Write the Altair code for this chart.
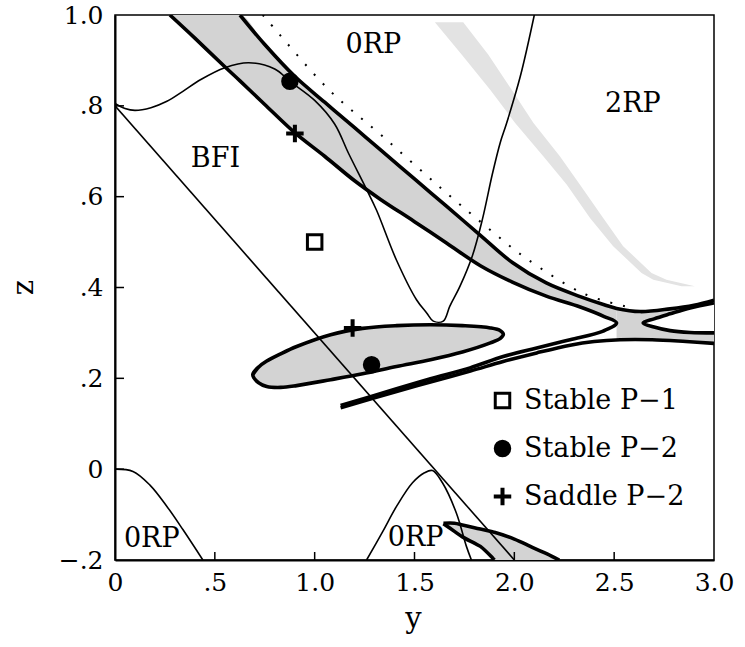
import altair as alt
import pandas as pd

# ---------------- thin boundary curves (y, z) ----------------
LINE_Y = [0.0, 2.0]
LINE_Z = [0.8, -0.2]

WAVE_Y = [0.0, 0.05, 0.10, 0.18, 0.26, 0.34, 0.43, 0.55, 0.67, 0.80, 0.876, 1.0, 1.10,
          1.17, 1.26, 1.31, 1.41, 1.51, 1.561, 1.594, 1.644, 1.677, 1.728, 1.79, 1.84,
          1.89, 1.93, 1.96, 2.03, 2.10]
WAVE_Z = [0.805, 0.794, 0.790, 0.796, 0.810, 0.832, 0.858, 0.884, 0.895, 0.881, 0.854,
          0.812, 0.760, 0.695, 0.616, 0.570, 0.460, 0.373, 0.344, 0.326, 0.326, 0.359,
          0.403, 0.470, 0.550, 0.650, 0.720, 0.760, 0.865, 1.0]

CORNER_Y = [0.0, 0.09, 0.175, 0.26, 0.34, 0.44]
CORNER_Z = [0.0, -0.005, -0.035, -0.082, -0.133, -0.2]

HUMP_Y = [1.26, 1.34, 1.41, 1.49, 1.55, 1.59, 1.64, 1.71, 1.76, 1.785]
HUMP_Z = [-0.2, -0.138, -0.082, -0.030, -0.008, -0.003, -0.030, -0.097, -0.170, -0.2]

# ---------------- thick boundary curves ----------------
UP_Y = [0.626, 0.75, 0.90, 1.05, 1.20, 1.33, 1.50, 1.66, 1.83, 1.99, 2.16, 2.33, 2.45,
        2.512, 2.63, 2.78, 2.90, 3.0]
UP_Z = [1.0, 0.935, 0.865, 0.808, 0.752, 0.703, 0.639, 0.579, 0.515, 0.455, 0.410, 0.380,
        0.362, 0.354, 0.347, 0.353, 0.361, 0.372]

BAND_Y = [0.275, 0.40, 0.55] + UP_Y[:14]
BAND_LOW = [1.0, 0.949, 0.886, 0.855, 0.803, 0.741, 0.689, 0.635, 0.594, 0.545, 0.498,
            0.448, 0.412, 0.381, 0.357, 0.336, 0.322]
BAND_TOP = [1.0, 1.0, 1.0] + UP_Z[:14]

ARM_Y = [2.445, 2.279, 2.112, 1.944, 1.778, 1.58, 1.41, 1.13]
ARM_Z = [0.304, 0.285, 0.267, 0.248, 0.223, 0.199, 0.177, 0.140]

LOWER_Y = [1.13, 1.41, 1.58, 1.78, 1.944, 2.112, 2.28, 2.40, 2.53, 2.69, 2.86, 3.0]
LOWER_Z = [0.135, 0.171, 0.192, 0.216, 0.237, 0.256, 0.273, 0.281, 0.285, 0.285, 0.281, 0.277]

RLOBE_Y = [2.645, 2.70, 2.78, 2.88, 3.0]
RLOBE_TOP = [0.322, 0.331, 0.342, 0.355, 0.366]
RLOBE_BOT = [0.322, 0.313, 0.305, 0.301, 0.300]

CH_Y = [2.512, 2.63, 2.78, 2.90, 3.0]
CH_TOP = [0.354, 0.347, 0.353, 0.361, 0.372]
CH_BOT = [0.285, 0.285, 0.284, 0.280, 0.277]

ELL_Y = [0.69, 0.72, 0.76, 0.83, 0.91, 1.08, 1.24, 1.41, 1.58, 1.74, 1.88, 1.93, 1.945]
ELL_TOP = [0.208, 0.225, 0.238, 0.254, 0.270, 0.296, 0.310, 0.316, 0.318, 0.316, 0.311, 0.305, 0.297]
ELL_BOT = [0.208, 0.190, 0.182, 0.180, 0.184, 0.197, 0.210, 0.226, 0.241, 0.258, 0.278, 0.288, 0.297]

LENS_Y = [1.645, 1.70, 1.74, 1.80, 1.83, 1.89, 1.90, 2.0, 2.08, 2.15, 2.225]
LENS_TOP = [-0.119, -0.119, -0.123, -0.129, -0.132, -0.138, -0.139, -0.154, -0.170, -0.184, -0.2]
LENS_BOT = [-0.120, -0.137, -0.149, -0.163, -0.170, -0.195, -0.2, -0.2, -0.2, -0.2, -0.2]

# sparse dotted boundary
DOT_Y = [0.74, 0.768, 1.07, 1.34, 1.64, 1.89, 2.06, 2.35, 2.56]
DOT_Z = [1.0, 0.986, 0.836, 0.733, 0.616, 0.523, 0.464, 0.386, 0.358]

# dotted strip bounding the 2RP region
STRIP_Z = [0.984, 0.913, 0.836, 0.763, 0.689, 0.627, 0.553, 0.491, 0.432, 0.417, 0.403]
STRIP_L = [1.602, 1.736, 1.878, 2.003, 2.145, 2.262, 2.379, 2.495, 2.637, 2.696, 2.838]
STRIP_R = [1.744, 1.869, 1.986, 2.095, 2.228, 2.328, 2.445, 2.545, 2.687, 2.762, 2.904]

# fixed points
MARK_Y = [1.0, 0.876, 1.285, 0.901, 1.19]
MARK_Z = [0.50, 0.854, 0.230, 0.739, 0.311]
MARK_KIND = ["Stable P\u22121", "Stable P\u22122", "Stable P\u22122", "Saddle P\u22122", "Saddle P\u22122"]
KINDS = ["Stable P\u22121", "Stable P\u22122", "Saddle P\u22122"]

# region names
LAB_TEXT = ["0RP", "2RP", "BFI", "0RP", "0RP"]
LAB_Y = [1.294, 2.594, 0.503, 0.184, 1.506]
LAB_Z = [0.935, 0.803, 0.682, -0.153, -0.152]

X_TICKS = [0.5, 1.0, 1.5, 2.0, 2.5]
Z_TICKS = [0.0, 0.2, 0.4, 0.6, 0.8]

# ---------------- helpers ----------------
FONT = "DejaVu Serif"
XS = alt.Scale(domain=[0, 3], nice=False, zero=False)
ZS = alt.Scale(domain=[-0.2, 1.0], nice=False, zero=False)
LBL = ("datum.value == 0 ? '0' : "
       "replace(replace(format(datum.value, '.1f'), '0.', '.'), '-', '\u2212')")
XAX = alt.Axis(title="y", values=[0, 0.5, 1.0, 1.5, 2.0, 2.5, 3.0], labelExpr=LBL,
               ticks=False, tickSize=0, grid=False, domainColor="black", domainWidth=2,
               labelFont=FONT, labelFontSize=25, labelColor="black", labelPadding=10,
               labelFlush=False, labelOverlap=False,
               titleFont=FONT, titleFontSize=29, titleFontWeight="normal", titleColor="black",
               titleX=298, titleY=67, titleBaseline="alphabetic", titleAlign="center")
ZAX = alt.Axis(title="z", values=[-0.2, 0, 0.2, 0.4, 0.6, 0.8, 1.0], labelExpr=LBL,
               ticks=False, tickSize=0, grid=False, domainColor="black", domainWidth=2,
               labelFont=FONT, labelFontSize=25, labelColor="black", labelPadding=12,
               labelFlush=False, labelOverlap=False,
               titleFont=FONT, titleFontSize=29, titleFontWeight="normal", titleColor="black",
               titleX=-83, titleY=272, titleBaseline="alphabetic", titleAlign="center",
               titleAngle=-90)

# plus symbol drawn as a thin filled outline (stroke adds the weight)
PLUS = ("M-1,-0.07L-0.07,-0.07L-0.07,-1L0.07,-1L0.07,-0.07L1,-0.07L1,0.07L0.07,0.07"
        "L0.07,1L-0.07,1L-0.07,0.07L-1,0.07Z")


def X(f):
    return alt.X(f"{f}:Q", scale=XS, axis=XAX)


def Y(f):
    return alt.Y(f"{f}:Q", scale=ZS, axis=ZAX)


def curves(items):
    rows = []
    for name, ys, zs in items:
        for i, (a, b) in enumerate(zip(ys, zs)):
            rows.append({"curve": name, "ord": i, "yv": a, "zv": b})
    return pd.DataFrame(rows)


def band(ys, top, bot):
    return pd.DataFrame({"yv": ys, "top": top, "bot": bot})


DENSE = "#d3d3d3"

# ---------------- shaded regions ----------------
strip = alt.Chart(pd.DataFrame({"zv": STRIP_Z, "l": STRIP_L, "r": STRIP_R})).mark_area(
    orient="horizontal", color="#e3e3e3", clip=True).encode(
    y=Y("zv"), x=X("l"), x2="r")


def fill_area(df, color=DENSE):
    return alt.Chart(df).mark_area(orient="vertical", color=color, interpolate="monotone",
                                   clip=True).encode(x=X("yv"), y=Y("top"), y2="bot")


band_fill = fill_area(band(BAND_Y, BAND_TOP, BAND_LOW))
ch_fill = fill_area(band(CH_Y, CH_TOP, CH_BOT))
rlobe_blank = fill_area(band(RLOBE_Y, RLOBE_TOP, RLOBE_BOT), color="white")
ell_fill = fill_area(band(ELL_Y, ELL_TOP, ELL_BOT))
lens_fill = fill_area(band(LENS_Y, LENS_TOP, LENS_BOT))

# ---------------- lines ----------------
dotted = alt.Chart(curves([("dot", DOT_Y, DOT_Z)])).mark_line(
    color="black", strokeWidth=2, strokeDash=[2, 11], interpolate="catmull-rom",
    clip=True).encode(x=X("yv"), y=Y("zv"), order="ord:Q")

thin = alt.Chart(curves([
    ("line", LINE_Y, LINE_Z),
    ("wave", WAVE_Y, WAVE_Z),
    ("corner", CORNER_Y, CORNER_Z),
    ("hump", HUMP_Y, HUMP_Z),
])).mark_line(color="black", strokeWidth=1.6, interpolate="catmull-rom", clip=True).encode(
    x=X("yv"), y=Y("zv"), detail="curve:N", order="ord:Q")

ell_loop_y = ELL_Y + ELL_Y[::-1][1:] + ELL_Y[1:2]
ell_loop_z = ELL_TOP + ELL_BOT[::-1][1:] + ELL_TOP[1:2]

thick = alt.Chart(curves([
    ("upper", UP_Y, UP_Z),
    ("left", BAND_Y + ARM_Y, BAND_LOW + ARM_Z),
    ("lower", LOWER_Y, LOWER_Z),
    ("right", RLOBE_Y[::-1] + RLOBE_Y[1:], RLOBE_TOP[::-1] + RLOBE_BOT[1:]),
    ("ellipse", ell_loop_y, ell_loop_z),
    ("lens_top", LENS_Y, LENS_TOP),
    ("lens_bot", LENS_Y[:7], LENS_BOT[:7]),
])).mark_line(color="black", strokeWidth=3.6, interpolate="catmull-rom", clip=True).encode(
    x=X("yv"), y=Y("zv"), detail="curve:N", order="ord:Q")

# ---------------- inner ticks ----------------
xticks = alt.Chart(pd.DataFrame({"v": X_TICKS})).mark_rule(color="black", strokeWidth=1.5).encode(
    x=X("v"), y=alt.value(545), y2=alt.value(537))
zticks = alt.Chart(pd.DataFrame({"v": Z_TICKS})).mark_rule(color="black", strokeWidth=1.5).encode(
    y=Y("v"), x=alt.value(0), x2=alt.value(9))

# ---------------- fixed points with legend ----------------
legend = alt.Legend(title=None, orient="none", legendX=374, legendY=372, padding=0,
                    labelFont=FONT, labelFontSize=27, labelColor="black", labelOffset=8,
                    labelLimit=400, rowPadding=20, symbolStrokeWidth=3.0, symbolSize=210)
points = alt.Chart(pd.DataFrame({"yv": MARK_Y, "zv": MARK_Z, "kind": MARK_KIND})).mark_point(
    strokeWidth=3.0, opacity=1, size=210).encode(
    x=X("yv"), y=Y("zv"),
    shape=alt.Shape("kind:N", scale=alt.Scale(domain=KINDS,
                    range=["square", "circle", PLUS]), legend=legend),
    fill=alt.Fill("kind:N", scale=alt.Scale(domain=KINDS, range=["white", "black", "black"]),
                  legend=legend),
    stroke=alt.Stroke("kind:N", scale=alt.Scale(domain=KINDS, range=["black", "black", "black"]),
                      legend=legend))

labels = alt.Chart(pd.DataFrame({"yv": LAB_Y, "zv": LAB_Z, "t": LAB_TEXT})).mark_text(
    font=FONT, fontSize=27, color="black", align="center", baseline="middle").encode(
    x=X("yv"), y=Y("zv"), text="t:N")

chart = alt.layer(
    strip, band_fill, ch_fill, rlobe_blank, ell_fill, lens_fill,
    dotted, thin, thick, xticks, zticks, points, labels
).properties(
    width=599, height=545,
    autosize=alt.AutoSizeParams(type="none"),
    padding={"left": 115, "top": 15, "right": 31, "bottom": 87},
    background="white",
).configure_view(stroke="black", strokeWidth=1.5)

chart.save("out.html", embed_options={"renderer": "svg", "actions": False})
